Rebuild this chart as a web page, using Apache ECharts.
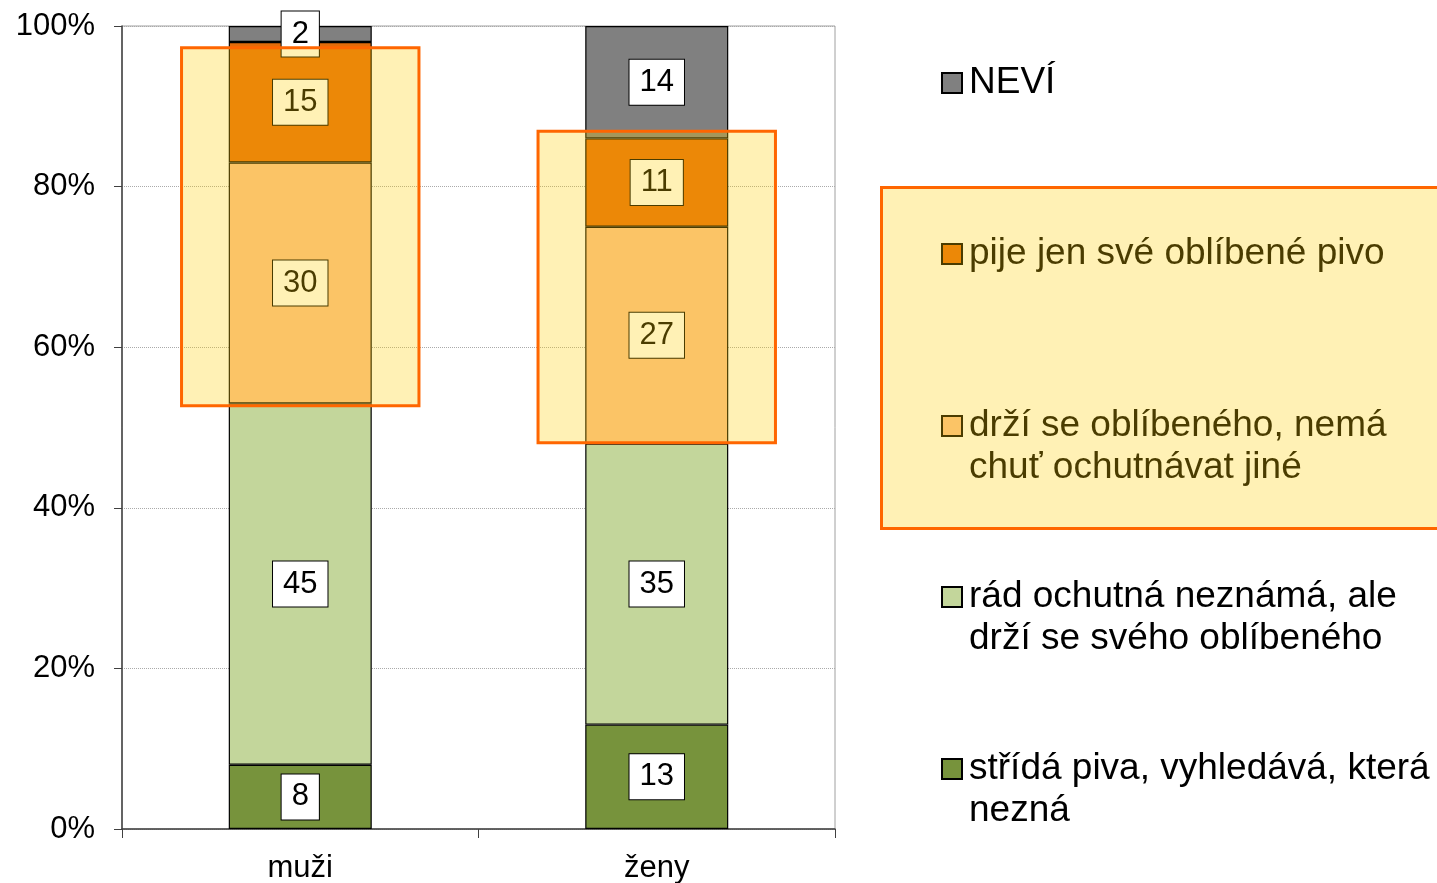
<!DOCTYPE html>
<html>
<head>
<meta charset="utf-8">
<script src="https://cdn.jsdelivr.net/npm/echarts@6/dist/echarts.min.js"></script>
<style>
  html, body { margin: 0; padding: 0; background: #fff; }
  #chart { width: 1437px; height: 883px; }
</style>
</head>
<body>
<div id="chart"></div>
<script>
// kategorie a hodnoty (v %)
var categories = ["muži", "ženy"];
var serStrida = [8, 13];
var serRad = [45, 35];
var serDrzi = [30, 27];
var serPije = [15, 11];
var serNevi = [2, 14];
// zvýraznění (od–do v %)
var hlBottom = [52.7, 48.1];
var hlTop = [97.3, 86.9];

var names = [
  "střídá piva, vyhledává, která nezná",
  "rád ochutná neznámá, ale drží se svého oblíbeného",
  "drží se oblíbeného, nemá chuť ochutnávat jiné",
  "pije jen své oblíbené pivo",
  "NEVÍ"
];
var legendText = {};
legendText[names[0]] = "střídá piva, vyhledává, která\nnezná";
legendText[names[1]] = "rád ochutná neznámá, ale\ndrží se svého oblíbeného";
legendText[names[2]] = "drží se oblíbeného, nemá\nchuť ochutnávat jiné";
legendText[names[3]] = "pije jen své oblíbené pivo";
legendText[names[4]] = "NEVÍ";
var colors = ["#77933C", "#C3D69B", "#FAC090", "#E46C0A", "#808080"];
var values = [serStrida, serRad, serDrzi, serPije, serNevi];

var FONT = "'Liberation Sans', Arial, sans-serif";
var chart = echarts.init(document.getElementById("chart"));

var series = [];
for (var i = 0; i < names.length; i++) {
  series.push({
    name: names[i],
    type: "bar",
    stack: "total",
    barWidth: 143,
    data: values[i],
    itemStyle: { color: colors[i], borderColor: "#000", borderWidth: 1.2 },
    label: {
      show: true,
      position: "inside",
      formatter: "{c}",
      fontFamily: FONT,
      fontSize: 31,
      lineHeight: 31,
      color: "#000",
      backgroundColor: "#fff",
      borderColor: "#000",
      borderWidth: 1,
      padding: [7, 10]
    },
    emphasis: { disabled: true },
    z: 2
  });
}

var hlData = [];
for (var k = 0; k < categories.length; k++) {
  hlData.push([k, hlBottom[k], hlTop[k]]);
}
series.push({
  type: "custom",
  silent: true,
  z: 10,
  data: hlData,
  encode: { x: 0, y: [1, 2] },
  renderItem: function (params, api) {
    var c = api.value(0);
    var cx = api.coord([c, 0])[0];
    var y0 = api.coord([c, api.value(1)])[1];
    var y1 = api.coord([c, api.value(2)])[1];
    var w = api.size([1, 0])[0] * 0.666;
    return {
      type: "rect",
      shape: { x: cx - w / 2, y: y1, width: w, height: y0 - y1 },
      style: { fill: "rgba(255,207,0,0.29)", stroke: "#FF6600", lineWidth: 3 }
    };
  }
});

// legenda – každá položka zvlášť, ikona u prvního řádku
var legendCenters = [769, 597, 426, 254, 83];
var twoLine = [true, true, true, false, false];
var legends = [];
for (var j = 0; j < names.length; j++) {
  legends.push({
    data: [names[j]],
    left: 941,
    top: twoLine[j] ? legendCenters[j] - 63 : legendCenters[j] - 21,
    orient: "vertical",
    padding: 0,
    selectedMode: false,
    itemWidth: 20,
    itemHeight: 20,
    itemGap: 0,
    icon: "rect",
    itemStyle: { borderColor: "#000", borderWidth: 2 },
    formatter: function (n) {
      var t = legendText[n];
      return t.indexOf("\n") >= 0 ? " \n" + t : t;
    },
    textStyle: {
      fontFamily: FONT,
      fontSize: 37,
      lineHeight: 42,
      color: "#000",
      padding: [0, 0, 0, 2]
    }
  });
}

chart.setOption({
  animation: false,
  backgroundColor: "#fff",
  grid: {
    left: 122, right: 602, top: 26, bottom: 54,
    show: true, borderColor: "#a0a0a0", borderWidth: 1,
    outerBoundsMode: "none"
  },
  legend: legends,
  xAxis: {
    type: "category",
    data: categories,
    axisLine: { lineStyle: { color: "#404040", width: 1.5 } },
    axisTick: { show: true, length: 9, lineStyle: { color: "#404040" } },
    axisLabel: { fontFamily: FONT, fontSize: 31, color: "#000", margin: 24 }
  },
  yAxis: {
    type: "value",
    min: 0, max: 100, interval: 20,
    axisLine: { show: true, lineStyle: { color: "#404040", width: 1.5 } },
    axisTick: { show: true, length: 8, lineStyle: { color: "#404040" } },
    axisLabel: { fontFamily: FONT, fontSize: 31, color: "#000", margin: 27, formatter: "{value}%" },
    splitLine: { lineStyle: { color: "#aaa", type: "dotted", width: 1 } }
  },
  graphic: [{
    type: "rect",
    left: 880, top: 186, z: 100, silent: true,
    shape: { width: 600, height: 341 },
    style: { fill: "rgba(255,207,0,0.29)", stroke: "#FF6600", lineWidth: 3 }
  }],
  series: series
});
</script>
</body>
</html>
